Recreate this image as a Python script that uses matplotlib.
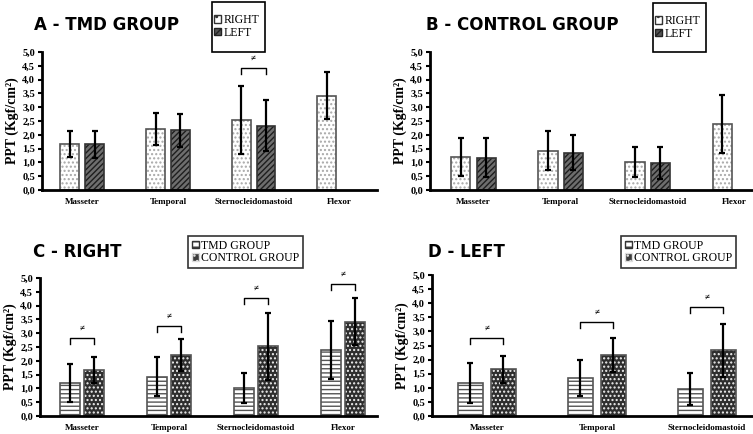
import matplotlib
matplotlib.use("Agg")
import matplotlib.pyplot as plt
from matplotlib.patches import Rectangle, Patch
import numpy as np

# ---------------- data ----------------
muscles4 = ["Masseter", "Temporal", "Sternocleidomastoid", "Flexor"]
muscles3 = ["Masseter", "Temporal", "Sternocleidomastoid"]

tmd_right = [1.65, 2.20, 2.53, 3.42]
tmd_right_sd = [0.47, 0.58, 1.22, 0.85]
tmd_left = [1.65, 2.17, 2.33]
tmd_left_sd = [0.48, 0.60, 0.93]

ctrl_right = [1.20, 1.42, 1.02, 2.38]
ctrl_right_sd = [0.70, 0.71, 0.55, 1.05]
ctrl_left = [1.17, 1.35, 0.97]
ctrl_left_sd = [0.70, 0.63, 0.57]

# panel C / D series as drawn in the reference (first = striped, second = speckled)
c_first = [1.20, 1.42, 1.02, 2.38]
c_first_sd = [0.70, 0.71, 0.55, 1.05]
c_second = [1.65, 2.20, 2.53, 3.42]
c_second_sd = [0.47, 0.58, 1.22, 0.85]
d_first = [1.17, 1.35, 0.97]
d_first_sd = [0.70, 0.63, 0.57]
d_second = [1.65, 2.17, 2.33]
d_second_sd = [0.48, 0.60, 0.93]

# significance brackets: (category index, bracket height)
sig_a = [(2, 4.42)]
sig_c = [(0, 2.83), (1, 3.26), (2, 4.27), (3, 4.80)]
sig_d = [(0, 2.77), (1, 3.33), (2, 3.87)]

yticks = [0.0, 0.5, 1.0, 1.5, 2.0, 2.5, 3.0, 3.5, 4.0, 4.5, 5.0]

# ---------------- style ----------------
W, H = 753, 434
fig = plt.figure(figsize=(W / 100, H / 100), dpi=100)
SERIF = "Liberation Serif"

def ax_px(x0, x1, ytop, ybot):
    return fig.add_axes([x0 / W, 1 - ybot / H, (x1 - x0) / W, (ybot - ytop) / H])

def draw_bars(ax, x, vals, sd, style):
    if style == "dots":
        ax.bar(x, vals, width=BW, color="white", hatch="....", edgecolor="#a8a8a8", linewidth=0)
        ax.bar(x, vals, width=BW, fill=False, edgecolor="#555555", linewidth=1.2)
    elif style == "diag":
        ax.bar(x, vals, width=BW, color="#6e6e6e", hatch="//////", edgecolor="#1e1e1e", linewidth=0)
        ax.bar(x, vals, width=BW, fill=False, edgecolor="#333333", linewidth=1.2)
    elif style == "hlines":
        ax.bar(x, vals, width=BW, color="white", hatch="----", edgecolor="#555555", linewidth=0)
        ax.bar(x, vals, width=BW, fill=False, edgecolor="#555555", linewidth=1.2)
    elif style == "speck":
        ax.bar(x, vals, width=BW, color="#2e2e2e", hatch="....", edgecolor="#f0f0f0", linewidth=0)
        ax.bar(x, vals, width=BW, fill=False, edgecolor="#555555", linewidth=1.2)
    ax.errorbar(x, vals, yerr=sd, fmt="none", ecolor="black", elinewidth=1.6,
                capsize=2.5, capthick=1.6, zorder=5)

def sig(ax, items, off):
    for i, h in items:
        xl, xr = i - off, i + off
        ax.plot([xl, xl, xr, xr], [h - 0.22, h, h, h - 0.22], color="black", lw=1.0,
                clip_on=False, zorder=6)
        ax.text(i, h + 0.18, "≠", ha="center", va="bottom", fontsize=6.5,
                family=SERIF, fontweight="bold", clip_on=False)

def style_axes(ax, labels, xlim):
    ax.set_ylim(0, 5)
    ax.set_xlim(*xlim)
    ax.set_yticks(yticks)
    ax.set_yticklabels([f"{v:.1f}".replace(".", ",") for v in yticks],
                       family=SERIF, fontweight="bold", fontsize=7.5)
    ax.set_xticks(range(len(labels)))
    ax.set_xticklabels(labels, family=SERIF, fontweight="bold", fontsize=6.5)
    ax.tick_params(axis="x", length=0, pad=6)
    ax.tick_params(axis="y", length=3, width=1.5, pad=2)
    for s in ["top", "right"]:
        ax.spines[s].set_visible(False)
    for s in ["left", "bottom"]:
        ax.spines[s].set_linewidth(2)
    ax.set_ylabel("PPT (Kgf/cm²)", family=SERIF, fontweight="bold", fontsize=10, labelpad=2)
    ax.set_facecolor("none")

def title(xpx, ypx, txt):
    fig.text(xpx / W, 1 - ypx / H, txt, ha="left", va="center", fontsize=12,
             fontweight="bold", family="DejaVu Sans")

LEG = dict(prop={"family": SERIF, "size": 8.5}, handlelength=0.6, handleheight=0.6,
           handletextpad=0.2, labelspacing=0.05, borderaxespad=0)

def legend_box(handles, labels, x0, y0, x1, y1, draw_rect):
    if draw_rect:
        fig.patches.append(Rectangle((x0 / W, 1 - y1 / H), (x1 - x0) / W, (y1 - y0) / H,
                                     transform=fig.transFigure, fill=False,
                                     edgecolor="black", lw=1.2))
        fig.legend(handles, labels, loc="upper left",
                   bbox_to_anchor=((x0 + 2) / W, 1 - (y0 + 12) / H),
                   frameon=False, borderpad=0, **LEG)
    else:
        lg = fig.legend(handles, labels, loc="upper left", bbox_to_anchor=(x0 / W, 1 - y0 / H),
                        frameon=True, fancybox=False, borderpad=0.3, **LEG)
        lg.get_frame().set_edgecolor("black")
        lg.get_frame().set_linewidth(1.2)

h_dots = Patch(facecolor="white", edgecolor="#333333", hatch="..")
h_diag = Patch(facecolor="#555555", edgecolor="#222222", hatch="////")
h_hl = Patch(facecolor="white", edgecolor="#333333", hatch="---")
h_sp = Patch(facecolor="#3c3c3c", edgecolor="#dddddd", hatch="...")

x4 = np.arange(len(muscles4))
x3 = np.arange(len(muscles3))

# ---------------- panel A ----------------
BW = 0.22
axA = ax_px(42, 377, 52, 190)
draw_bars(axA, x4 - 0.145, tmd_right, tmd_right_sd, "dots")
draw_bars(axA, x3 + 0.145, tmd_left, tmd_left_sd, "diag")
style_axes(axA, muscles4, (-0.47, 3.44))
sig(axA, sig_a, 0.145)
title(34, 25, "A - TMD GROUP")
legend_box([h_dots, h_diag], ["RIGHT", "LEFT"], 212, 2, 265, 52, True)

# ---------------- panel B ----------------
axB = ax_px(430, 753, 52, 190)
draw_bars(axB, x4 - 0.145, ctrl_right, ctrl_right_sd, "dots")
draw_bars(axB, x3 + 0.145, ctrl_left, ctrl_left_sd, "diag")
style_axes(axB, muscles4, (-0.5, 3.21))
title(426, 25, "B - CONTROL GROUP")
legend_box([h_dots, h_diag], ["RIGHT", "LEFT"], 653, 3, 706, 52, True)

# ---------------- panel C ----------------
BW = 0.23
axC = ax_px(40, 377, 278, 416)
draw_bars(axC, x4 - 0.14, c_first, c_first_sd, "hlines")
draw_bars(axC, x4 + 0.14, c_second, c_second_sd, "speck")
style_axes(axC, muscles4, (-0.48, 3.39))
sig(axC, sig_c, 0.14)
title(33, 252, "C - RIGHT")
legend_box([h_hl, h_sp], ["TMD GROUP", "CONTROL GROUP"], 188, 236, 303, 268, False)

# ---------------- panel D ----------------
axD = ax_px(432, 753, 275, 416)
draw_bars(axD, x3 - 0.15, d_first, d_first_sd, "hlines")
draw_bars(axD, x3 + 0.15, d_second, d_second_sd, "speck")
style_axes(axD, muscles3, (-0.5, 2.42))
sig(axD, sig_d, 0.15)
title(428, 252, "D - LEFT")
legend_box([h_hl, h_sp], ["TMD GROUP", "CONTROL GROUP"], 621, 236, 737, 268, False)

fig.savefig("out.png", dpi=100)
